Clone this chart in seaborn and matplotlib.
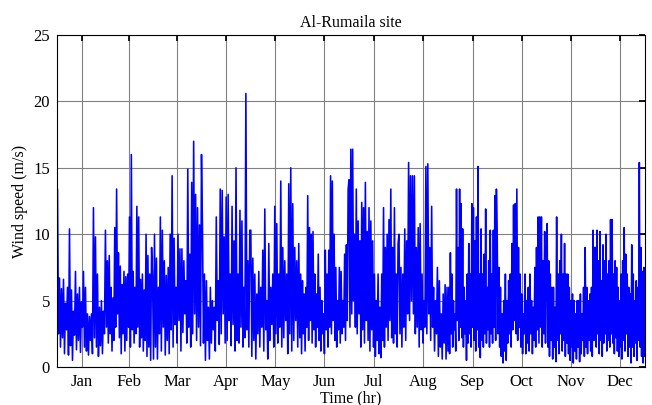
import numpy as np
import pandas as pd
import matplotlib
matplotlib.use("Agg")
import matplotlib.pyplot as plt
import seaborn as sns

# ---- data (hourly wind speed per month) ----
months = ["Jan", "Feb", "Mar", "Apr", "May", "Jun",
          "Jul", "Aug", "Sep", "Oct", "Nov", "Dec"]
month_days = [31, 28, 31, 30, 31, 30, 31, 31, 30, 31, 30, 31]

jan = [13.4, 2.5, 6.7, 1.5, 5.9, 2.2, 6.6, 1.0, 4.8, 2.8, 6.0, 0.9, 10.4, 1.6, 5.8, 0.5,
       4.2, 2.4, 7.2, 1.3, 5.5, 2.0, 6.0, 1.1, 4.9, 3.0, 7.2, 1.5, 6.0, 1.2, 4.0, 0.9,
       3.8, 2.0, 4.0, 1.0, 12.0, 2.2, 9.8, 1.5, 7.0, 0.8, 4.5, 1.6, 5.0, 1.0, 4.2, 2.5,
       10.3, 3.0]
feb = [8.0, 1.8, 8.4, 2.5, 6.0, 1.2, 5.2, 2.0, 10.5, 3.0, 13.4, 4.0, 8.6, 2.2, 7.6, 1.0,
       6.2, 2.5, 7.2, 1.2, 6.8, 2.0, 7.0, 3.0, 11.3, 1.5, 16.0, 2.8, 7.2, 1.8, 6.0, 2.5,
       12.1, 3.0, 11.3, 1.5, 6.6, 2.2, 7.0, 1.2, 5.8, 2.0, 10.0, 0.8, 8.4, 1.5, 7.0, 0.5,
       9.0]
mar = [6.8, 0.6, 10.0, 1.5, 8.2, 0.6, 6.0, 2.5, 11.3, 1.2, 10.3, 3.0, 8.0, 0.9, 6.9, 2.0,
       7.5, 1.0, 10.0, 2.8, 14.4, 1.5, 9.7, 3.2, 6.0, 1.8, 10.0, 3.5, 8.9, 1.2, 8.9, 2.6,
       8.0, 4.0, 6.5, 1.8, 14.9, 3.0, 8.5, 1.5, 13.9, 2.5, 17.0, 4.0, 13.0, 2.0, 12.0, 3.0,
       10.7, 1.6, 16.0]
apr = [10.4, 1.8, 7.0, 0.5, 6.5, 2.0, 4.5, 0.6, 6.0, 1.8, 5.0, 2.8, 4.5, 1.2, 11.3, 3.5,
       6.5, 1.7, 13.4, 2.5, 13.3, 4.0, 9.8, 1.8, 12.8, 2.0, 13.0, 3.5, 7.0, 1.6, 12.1, 3.2,
       9.5, 1.2, 15.0, 2.0, 7.0, 1.8, 11.8, 3.0, 11.0, 1.5, 6.0, 2.2, 20.6, 2.8, 8.0, 1.5,
       10.3]
may = [10.3, 0.8, 8.2, 2.0, 7.0, 0.6, 5.5, 2.5, 7.2, 1.5, 6.0, 3.0, 8.8, 1.2, 11.9, 2.8,
       5.0, 0.6, 9.3, 2.0, 6.0, 3.2, 7.0, 1.5, 12.1, 2.5, 10.8, 1.8, 7.0, 3.0, 14.0, 1.5,
       9.0, 2.2, 8.0, 3.5, 7.0, 1.0, 13.8, 2.5, 15.0, 1.2, 12.3, 2.0, 9.0, 3.5, 8.0, 1.5,
       9.3, 2.2]
jun = [7.0, 1.0, 6.5, 2.5, 5.5, 1.2, 6.0, 3.0, 12.9, 2.0, 10.5, 3.5, 10.0, 1.8, 10.2, 2.8,
       7.0, 1.5, 5.5, 3.0, 8.5, 2.0, 6.0, 1.2, 5.0, 2.5, 4.0, 1.0, 8.8, 2.8, 7.0, 1.5,
       8.8, 3.0, 14.4, 2.5, 14.0, 3.5, 10.0, 2.0, 7.5, 1.5, 5.0, 2.8, 7.5, 1.8, 7.2, 2.5,
       5.0, 3.0, 8.5, 2.0, 9.2, 3.5, 13.4]
jul = [14.1, 3.0, 16.4, 4.0, 16.4, 5.0, 10.0, 3.0, 13.4, 2.5, 11.0, 4.0, 9.5, 1.5, 12.4, 2.8,
       12.0, 1.8, 13.9, 3.5, 10.2, 2.0, 12.0, 1.2, 11.0, 2.8, 9.5, 1.5, 7.0, 0.8, 5.0, 2.0,
       7.0, 1.0, 4.5, 0.7, 7.0, 2.0, 12.0, 1.5, 9.0, 3.0, 10.0, 2.0, 11.1, 3.5, 13.4, 2.2,
       9.0, 1.8, 12.0, 2.5, 7.0, 1.5, 9.3]
aug = [10.0, 2.5, 7.5, 1.5, 7.0, 3.0, 10.4, 2.0, 9.5, 4.0, 15.4, 3.5, 14.4, 5.0, 14.4, 4.0,
       14.4, 2.5, 9.0, 3.0, 10.5, 1.5, 10.8, 2.8, 7.0, 1.8, 5.0, 3.0, 15.1, 2.5, 15.3, 4.0,
       9.0, 2.0, 12.1, 3.0, 6.0, 1.2, 5.0, 2.5, 7.5, 0.8, 6.5, 1.5, 4.0, 0.6, 5.5, 1.8,
       6.2, 0.6, 6.0, 1.2]
sep = [6.0, 1.0, 8.6, 2.5, 7.0, 1.5, 5.0, 2.8, 4.0, 1.2, 13.4, 3.5, 9.0, 2.0, 13.4, 3.0,
       12.3, 2.2, 10.4, 1.5, 6.0, 2.5, 5.0, 0.5, 7.0, 1.8, 9.3, 2.5, 7.0, 1.5, 12.3, 3.0,
       12.0, 2.0, 9.5, 1.2, 11.3, 2.8, 15.1, 1.5, 7.0, 0.7, 10.4, 2.0, 7.0, 1.5, 8.5, 2.5,
       11.9, 1.8, 6.0, 2.8, 8.0, 1.5, 10.3, 2.5, 7.0, 1.8, 10.3, 3.0, 12.9, 2.0, 13.4]
oct_ = [10.0, 2.5, 7.5, 1.5, 6.0, 0.8, 4.0, 0.3, 5.0, 1.2, 7.0, 0.5, 5.0, 1.8, 6.5, 2.5,
        7.0, 1.5, 9.3, 2.8, 12.2, 3.5, 12.3, 2.5, 13.4, 2.0, 9.0, 3.0, 7.0, 1.5, 5.5, 1.0,
        4.0, 2.5, 7.0, 1.0, 5.0, 1.8, 6.0, 1.2, 7.0, 2.5, 5.0, 1.0, 4.5, 2.0, 7.5, 1.5,
        9.0, 2.8, 11.3, 1.8, 11.3, 3.0, 11.3, 1.5, 8.0, 2.5, 10.2, 1.8, 7.0]
nov = [10.8, 1.5, 8.0, 0.8, 7.0, 2.0, 6.0, 0.6, 6.0, 1.5, 4.5, 0.4, 11.3, 2.0, 7.0, 1.0,
       8.0, 2.5, 10.0, 1.2, 7.0, 2.0, 9.3, 0.8, 7.0, 1.8, 7.0, 1.0, 6.0, 0.5, 5.0, 1.5,
       5.5, 0.3, 5.0, 1.2, 4.0, 0.6, 5.0, 1.5, 5.0, 0.4, 5.5, 1.0, 4.0, 2.0, 6.0, 0.8,
       9.0, 1.5, 6.0, 1.0, 5.0, 2.0, 5.5, 1.2, 6.0, 0.8, 10.3, 2.0, 9.0]
dec = [9.0, 1.5, 10.3, 2.5, 8.0, 1.0, 10.2, 2.0, 6.5, 0.8, 9.2, 1.8, 8.0, 2.5, 10.0, 1.2,
       7.0, 2.0, 8.0, 1.5, 11.1, 2.5, 11.1, 1.8, 7.0, 1.0, 8.0, 2.2, 7.5, 1.2, 6.0, 0.8,
       5.0, 1.5, 7.0, 0.6, 8.0, 2.0, 10.5, 1.2, 8.5, 2.5, 7.0, 0.8, 6.0, 1.5, 5.5, 0.3,
       9.2, 1.5, 7.0, 0.8, 5.0, 1.8, 6.5, 0.5, 6.0, 2.0, 15.4, 1.5, 9.0, 0.8, 7.2, 0.3,
       7.5, 0.8]

month_series = [jan, feb, mar, apr, may, jun, jul, aug, sep, oct_, nov, dec]

# place each month's readings evenly through that month's hours
hours, speeds = [], []
start = 0
for days, vals in zip(month_days, month_series):
    n = len(vals)
    span = days * 24
    for i, v in enumerate(vals):
        hours.append(start + (i + 0.5) * span / n)
        speeds.append(v)
    start += span
df = pd.DataFrame({"hour": hours, "speed": speeds})

edges = np.cumsum([0] + [d * 24 for d in month_days])
mid_ticks = (edges[:-1] + edges[1:]) / 2.0

# ---- plot ----
sns.set_theme(style="white")
plt.rcParams["font.family"] = ["Liberation Serif", "DejaVu Serif"]
plt.rcParams["text.color"] = "black"
plt.rcParams["axes.labelcolor"] = "black"

fig = plt.figure(figsize=(6.52, 4.05), dpi=100)
ax = fig.add_axes([57 / 652, 1 - 367 / 405, 588 / 652, 332 / 405])

sns.lineplot(data=df, x="hour", y="speed", estimator=None, sort=False,
             color="#0000ff", linewidth=1.15, ax=ax)

ax.set_xlim(0, 8760)
ax.set_ylim(0, 25)
ax.set_xticks(mid_ticks)
ax.set_xticklabels(months)
ax.set_yticks([0, 5, 10, 15, 20, 25])
ax.grid(True, color="#808080", linewidth=0.8)
ax.set_axisbelow(True)
ax.tick_params(direction="in", top=True, right=True, length=4,
               labelsize=12, colors="black", pad=5)
for s in ax.spines.values():
    s.set_color("black")
    s.set_linewidth(0.8)

ax.set_title("Al-Rumaila site", fontsize=11.5, pad=6, color="black")
ax.set_xlabel("Time (hr)", fontsize=11.5, labelpad=0, color="black")
ax.set_ylabel("Wind speed (m/s)", fontsize=11.5, labelpad=4, color="black")

fig.savefig("out.png", dpi=100)
